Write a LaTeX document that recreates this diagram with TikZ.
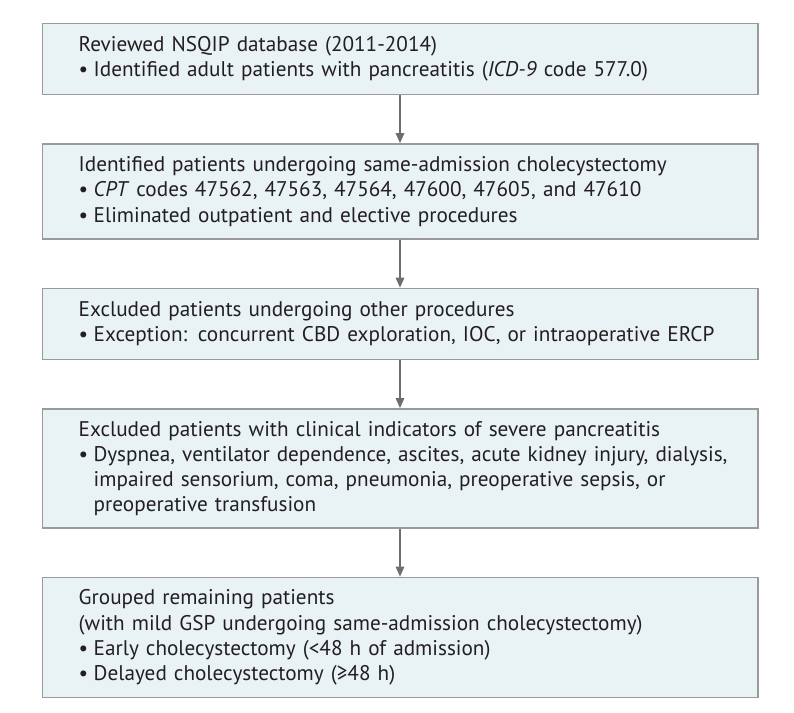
\documentclass[tikz,border=0pt]{standalone}
\usepackage{fontspec}
\setmainfont{PT Sans}
\usepackage{tikz}
\usetikzlibrary{arrows.meta,positioning}

\definecolor{boxfill}{HTML}{E9F2F4}
\definecolor{boxline}{HTML}{9A9A9A}
\definecolor{arrowgray}{HTML}{6E6E6E}
\definecolor{textdark}{HTML}{231F20}

\newcommand{\bul}{\makebox[7.5pt][l]{\textbullet}}
\newcommand{\hang}{\hspace*{7.5pt}}

\begin{document}
\begin{tikzpicture}[
  node distance=24pt,
  box/.style={draw=boxline, line width=0.75pt, fill=boxfill, align=left,
              text width=321.25pt, inner xsep=18.25pt, inner ysep=0pt,
              text=textdark, font=\fontsize{10.6pt}{12.6pt}\selectfont},
  arrow/.style={-{Triangle[length=5pt, width=4.2pt]}, line width=0.75pt, draw=arrowgray}
]
\useasboundingbox (0,0) rectangle (397pt,-356.5pt);

\node[box, minimum height=35.5pt, anchor=north west] (db) at (20.75pt,-11.35pt)
  {Reviewed NSQIP database (2011-2014)\\
   \bul Identified adult patients with pancreatitis (\textit{ICD-9} code 577.0)};
\node[box, minimum height=47.5pt, below=of db] (chole)
  {Identified patients undergoing same-admission cholecystectomy\\
   \bul\textit{CPT} codes 47562, 47563, 47564, 47600, 47605, and 47610\\
   \bul Eliminated outpatient and elective procedures};
\node[box, minimum height=35.5pt, below=of chole] (other)
  {Excluded patients undergoing other procedures\\
   \bul Exception: concurrent CBD exploration, IOC, or intraoperative ERCP};
\node[box, minimum height=59.5pt, below=of other] (severe)
  {Excluded patients with clinical indicators of severe pancreatitis\\
   \mbox{\bul Dyspnea, ventilator dependence, ascites, acute kidney injury, dialysis,}\\
   \hang impaired sensorium, coma, pneumonia, preoperative sepsis, or\\
   \hang preoperative transfusion};
\node[box, minimum height=60pt, below=of severe] (groups)
  {Grouped remaining patients\\
   (with mild GSP undergoing same-admission cholecystectomy)\\
   \bul Early cholecystectomy (<48 h of admission)\\
   \bul Delayed cholecystectomy (≥48 h)};

\draw[arrow] (db) -- (chole);
\draw[arrow] (chole) -- (other);
\draw[arrow] (other) -- (severe);
\draw[arrow] (severe) -- (groups);
\end{tikzpicture}
\end{document}
